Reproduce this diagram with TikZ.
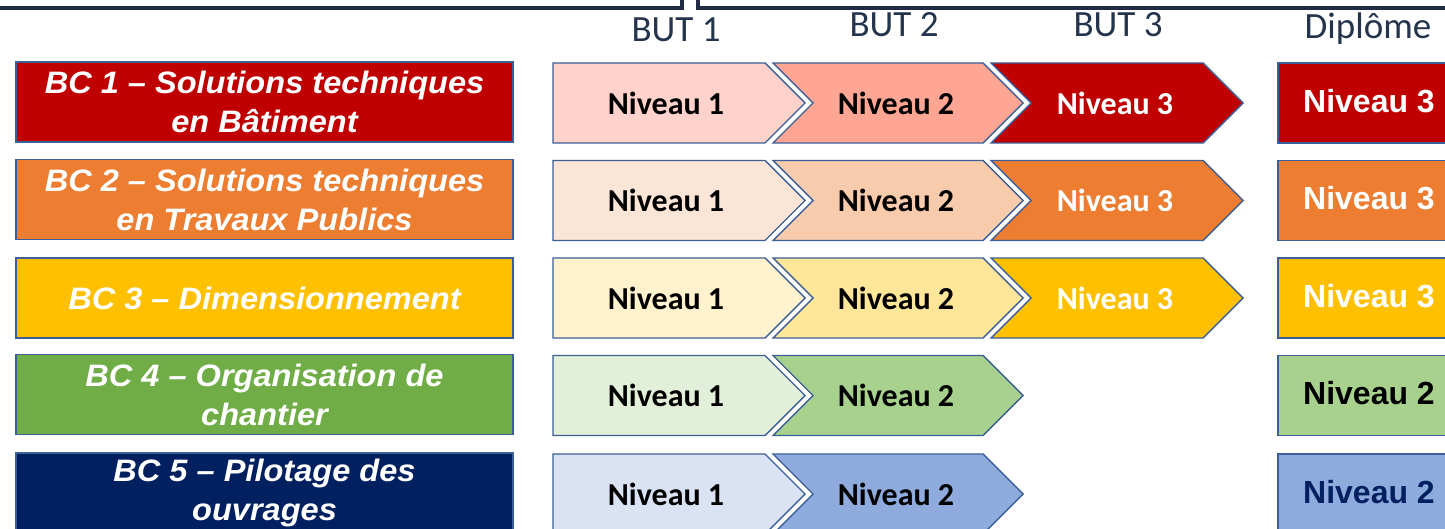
\documentclass[tikz,border=0pt]{standalone}
\usepackage{fontspec}
\setmainfont{Carlito}
\newfontfamily\arialfont{Liberation Sans}
\newfontfamily\arialwide{Liberation Sans}[FakeStretch=1.05]
\definecolor{bordc}{HTML}{3B5F96}
\definecolor{framec}{HTML}{222B45}
\definecolor{hdrc}{HTML}{24344D}
\definecolor{rA}{HTML}{C00000}\definecolor{rAa}{HTML}{FFD3CC}\definecolor{rAb}{HTML}{FFA594}
\definecolor{rB}{HTML}{ED7D31}\definecolor{rBa}{HTML}{FBE5D6}\definecolor{rBb}{HTML}{F8CBAD}
\definecolor{rC}{HTML}{FFC000}\definecolor{rCa}{HTML}{FFF2CC}\definecolor{rCb}{HTML}{FFE699}
\definecolor{rD}{HTML}{70AD47}\definecolor{rDa}{HTML}{E2F0D9}\definecolor{rDb}{HTML}{A9D18E}
\definecolor{rE}{HTML}{002060}\definecolor{rEa}{HTML}{DAE3F3}\definecolor{rEb}{HTML}{8FAADC}
\newcommand\mypenta[4]{\path[chevshape, fill=#4] (#1,#3) -- (#2,#3) -- ({#2+40},{#3+40}) -- (#2,{#3+80}) -- (#1,{#3+80}) -- cycle;}
\newcommand\mychev[4]{\path[chevshape, fill=#4] (#1,#3) -- (#2,#3) -- ({#2+40},{#3+40}) -- (#2,{#3+80}) -- (#1,{#3+80}) -- ({#1+40},{#3+40}) -- cycle;}
\tikzset{
  chevshape/.style={draw=bordc, line width=1.4pt, line join=miter},
  bcbox/.style={draw=bordc, line width=1.4pt, minimum width=497pt, minimum height=80pt, inner sep=0pt,
     text=white, align=center, font=\arialwide\bfseries\itshape\fontsize{31}{39}\selectfont},
  nivtext/.style={font=\bfseries\fontsize{32}{38}\selectfont, inner sep=0pt},
  diptext/.style={font=\arialfont\bfseries\fontsize{32}{38}\selectfont, inner sep=0pt},
  hdrtext/.style={font=\fontsize{37}{40}\selectfont, text=hdrc, inner sep=0pt, anchor=base},
  framel/.style={draw=framec, line width=3.2pt},
}
\begin{document}
\begin{tikzpicture}[x=1pt, y=-1pt]
\useasboundingbox (0,0) rectangle (1445,529);
\clip (0,0) rectangle (1445,529);
\fill[white] (0,0) rectangle (1445,529);
% top frames
\coordinate (fa) at (-5,8);
\coordinate (fb) at (682,8);
\coordinate (fc) at (682,-5);
\draw[framel] (fa) -- (fb) -- (fc);
\coordinate (fd) at (698,-5);
\coordinate (fe) at (698,8);
\coordinate (ff) at (1450,8);
\draw[framel] (fd) -- (fe) -- (ff);
% headers
\node[hdrtext] (but1) at (676,42) {BUT 1};
\node[hdrtext] (but2) at (894,37) {BUT 2};
\node[hdrtext] (but3) at (1118,37) {BUT 3};
\node[hdrtext] (dipl) at (1368,39) {Diplôme};
% BC boxes
\node[bcbox, fill=rA] (bc1) at (264.5,102) {BC 1 – Solutions techniques\\en Bâtiment};
\node[bcbox, fill=rB] (bc2) at (264.5,199.5) {BC 2 – Solutions techniques\\en Travaux Publics};
\node[bcbox, fill=rC] (bc3) at (264.5,298) {BC 3 – Dimensionnement};
\node[bcbox, fill=rD] (bc4) at (264.5,394.5) {BC 4 – Organisation de\\chantier};
\node[bcbox, fill=rE] (bc5) at (264.5,493) {BC 5 – Pilotage des\\ouvrages};
% row 1
\mypenta{553}{765}{63}{rAa}
\mychev{773}{983}{63}{rAb}
\mychev{991}{1203}{63}{rA}
\node[nivtext] (n11) at (666,103) {Niveau 1};
\node[nivtext] (n12) at (896,103) {Niveau 2};
\node[nivtext, text=white] (n13) at (1115,103) {Niveau 3};
% row 2
\mypenta{553}{765}{160.5}{rBa}
\mychev{773}{983}{160.5}{rBb}
\mychev{991}{1203}{160.5}{rB}
\node[nivtext] (n21) at (666,200.5) {Niveau 1};
\node[nivtext] (n22) at (896,200.5) {Niveau 2};
\node[nivtext, text=white] (n23) at (1115,200.5) {Niveau 3};
% row 3
\mypenta{553}{765}{258}{rCa}
\mychev{773}{983}{258}{rCb}
\mychev{991}{1203}{258}{rC}
\node[nivtext] (n31) at (666,298) {Niveau 1};
\node[nivtext] (n32) at (896,298) {Niveau 2};
\node[nivtext, text=white] (n33) at (1115,298) {Niveau 3};
% row 4
\mypenta{553}{765}{355.5}{rDa}
\mychev{773}{983}{355.5}{rDb}
\node[nivtext] (n41) at (666,395.5) {Niveau 1};
\node[nivtext] (n42) at (896,395.5) {Niveau 2};
% row 5
\mypenta{553}{765}{454}{rEa}
\mychev{773}{983}{454}{rEb}
\node[nivtext] (n51) at (666,494) {Niveau 1};
\node[nivtext] (n52) at (896,494) {Niveau 2};
% diploma column
\path[chevshape, fill=rA] (1278,63) rectangle (1460,143);
\path[chevshape, fill=rB] (1278,160.5) rectangle (1460,240.5);
\path[chevshape, fill=rC] (1278,258) rectangle (1460,338);
\path[chevshape, fill=rDb] (1278,355.5) rectangle (1460,435.5);
\path[chevshape, fill=rEb] (1278,454) rectangle (1460,534);
\node[diptext, text=white] (d1) at (1369,101) {Niveau 3};
\node[diptext, text=white] (d2) at (1369,198.5) {Niveau 3};
\node[diptext, text=white] (d3) at (1369,296) {Niveau 3};
\node[diptext] (d4) at (1369,393.5) {Niveau 2};
\node[diptext, text=rE] (d5) at (1369,492) {Niveau 2};
\end{tikzpicture}
\end{document}
